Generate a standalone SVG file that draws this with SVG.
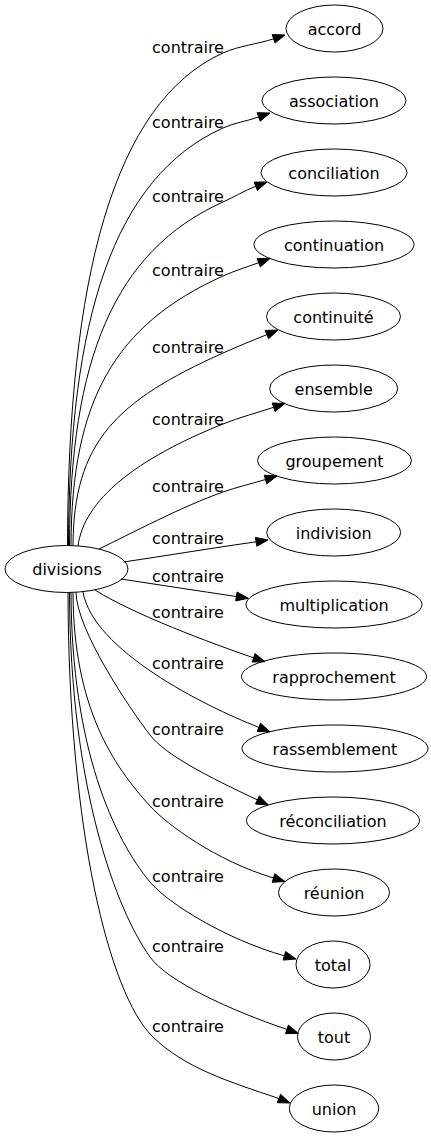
<svg xmlns="http://www.w3.org/2000/svg" width="431" height="1139" viewBox="0 0 431 1139">
<style>
text{font-family:"DejaVu Sans","Liberation Sans",sans-serif;font-size:16px;fill:#000;text-anchor:middle}
.node ellipse{fill:none;stroke:#000;stroke-width:1}
.edge path{fill:none;stroke:#000;stroke-width:1}
.edge polygon{fill:#000;stroke:#000;stroke-width:1}
</style>
<rect width="431" height="1139" fill="#fff"/>
<g id="edges">
<g class="edge" id="e1"><path d="M67.5,545.5 C68,280 113,102.5 223,53 C239.9,45.4 256.7,44.4 273.6,38.8"/><polygon points="275,43.1 285,35 272.2,34.5"/><text x="188" y="53">contraire</text></g>
<g class="edge" id="e2"><path d="M68.5,545.5 C69,320 113,177.5 223,128 C234.9,122.6 246.8,121.2 258.7,117"/><polygon points="260.2,121.2 270,113 257.2,112.7"/><text x="188" y="128">contraire</text></g>
<g class="edge" id="e3"><path d="M69.5,545.6 C70,360 114,251 223,202 C233.9,197.1 244.9,190.4 255.8,186.3"/><polygon points="257.4,190.5 267,182 254.2,182.1"/><text x="188" y="202">contraire</text></g>
<g class="edge" id="e4"><path d="M71,545.6 C71.5,400 115,324.6 223,276 C234.9,270.6 246.8,267.1 258.7,262.7"/><polygon points="260.3,266.9 270,258.5 257.1,258.5"/><text x="188" y="276">contraire</text></g>
<g class="edge" id="e5"><path d="M73,545.7 C73.5,441.6 116.5,400.9 223,353 C237.6,346.4 252.3,340.6 266.9,334.6"/><polygon points="268.6,338.8 278,330 265.2,330.4"/><text x="188" y="353">contraire</text></g>
<g class="edge" id="e6"><path d="M78,546 C84,500 136,458.8 223,424 C239.9,417.2 256.7,412.9 273.6,407.3"/><polygon points="275,411.6 285,403.5 272.2,403"/><text x="188" y="425">contraire</text></g>
<g class="edge" id="e7"><path d="M99,549 C130,534 183,506 223,492 C237.2,487 251.3,483.8 265.5,479.5"/><polygon points="266.8,483.8 277,476 264.2,475.2"/><text x="188" y="492">contraire</text></g>
<g class="edge" id="e8"><path d="M123.5,562 C168,555.5 212,548 256.1,541.8"/><polygon points="256.8,546.3 268,540 255.4,537.4"/><text x="188" y="544">contraire</text></g>
<g class="edge" id="e9"><path d="M121,579 C160,585 198,590.8 236.4,596.5"/><polygon points="235.7,600.9 248.3,598.3 237.1,592"/><text x="188" y="582">contraire</text></g>
<g class="edge" id="e10"><path d="M95,590 C133,614 211,643.3 253.6,657.8"/><polygon points="252.2,662.1 265,661.7 255.1,653.5"/><text x="188" y="618">contraire</text></g>
<g class="edge" id="e11"><path d="M83,592 C93,650 202.9,705.5 258.8,727.3"/><polygon points="257.2,731.5 270,731.7 260.4,723.1"/><text x="188" y="669">contraire</text></g>
<g class="edge" id="e12"><path d="M76,592.2 C76.5,630 129.9,708.8 150,735 C165.2,754.8 207.6,776.5 257.4,799.9"/><polygon points="255.5,804 268.3,805 259.3,795.8"/><text x="188" y="735">contraire</text></g>
<g class="edge" id="e13"><path d="M73,592.4 C73.5,707.7 113.2,765.5 150,806 C166.8,824.5 216,860.8 273.5,878"/><polygon points="272.2,882.3 285,881.5 274.8,873.7"/><text x="188" y="807">contraire</text></g>
<g class="edge" id="e14"><path d="M71,592.3 C71.5,748.7 114.2,839 150,882 C167.9,903.5 226.6,939.6 284.4,955.8"/><polygon points="283.2,960.1 296,959 285.6,951.5"/><text x="188" y="882">contraire</text></g>
<g class="edge" id="e15"><path d="M69.5,592.4 C70,789.3 116.8,910.4 150,957 C167.4,981.4 230.1,1010.1 286.9,1029.4"/><polygon points="285.5,1033.7 298.3,1033.3 288.4,1025.1"/><text x="188" y="952">contraire</text></g>
<g class="edge" id="e16"><path d="M68,592.5 C68.5,832 109.6,993.6 152,1036 C184,1068 230,1082 278.9,1098.5"/><polygon points="277.2,1102.7 290,1103 280.6,1094.3"/><text x="188" y="1032">contraire</text></g>
</g>
<g class="node" id="divisions"><ellipse cx="66.5" cy="569" rx="61.5" ry="23.5"/><text x="67" y="575">divisions</text></g>
<g class="node" id="accord"><ellipse cx="334.5" cy="28.5" rx="48.5" ry="23.5"/><text x="334.5" y="34.5">accord</text></g>
<g class="node" id="association"><ellipse cx="334" cy="100.5" rx="72" ry="23.5"/><text x="334" y="106.5">association</text></g>
<g class="node" id="conciliation"><ellipse cx="334" cy="172.5" rx="73" ry="23.5"/><text x="334" y="178.5">conciliation</text></g>
<g class="node" id="continuation"><ellipse cx="334" cy="244.5" rx="80" ry="23.5"/><text x="334" y="250.5">continuation</text></g>
<g class="node" id="continuite"><ellipse cx="333.5" cy="316.5" rx="67" ry="23.5"/><text x="333.5" y="322.5">continuité</text></g>
<g class="node" id="ensemble"><ellipse cx="333.7" cy="388.5" rx="64" ry="23.5"/><text x="333.7" y="394.5">ensemble</text></g>
<g class="node" id="groupement"><ellipse cx="334.5" cy="460.5" rx="77" ry="23.5"/><text x="334.5" y="466.5">groupement</text></g>
<g class="node" id="indivision"><ellipse cx="333.7" cy="532.5" rx="67" ry="23.5"/><text x="333.7" y="538.5">indivision</text></g>
<g class="node" id="multiplication"><ellipse cx="334" cy="604.5" rx="88" ry="23.5"/><text x="334" y="610.5">multiplication</text></g>
<g class="node" id="rapprochement"><ellipse cx="334" cy="676.5" rx="92.5" ry="23.5"/><text x="334" y="682.5">rapprochement</text></g>
<g class="node" id="rassemblement"><ellipse cx="335" cy="748.5" rx="93" ry="23.5"/><text x="335" y="754.5">rassemblement</text></g>
<g class="node" id="reconciliation"><ellipse cx="333" cy="820.5" rx="86.5" ry="23.5"/><text x="333" y="826.5">réconciliation</text></g>
<g class="node" id="reunion"><ellipse cx="334" cy="892.5" rx="55.5" ry="23.5"/><text x="334" y="898.5">réunion</text></g>
<g class="node" id="total"><ellipse cx="333" cy="964.5" rx="37" ry="23.5"/><text x="333" y="970.5">total</text></g>
<g class="node" id="tout"><ellipse cx="334" cy="1036.5" rx="36.5" ry="23.5"/><text x="334" y="1042.5">tout</text></g>
<g class="node" id="union"><ellipse cx="334" cy="1108.5" rx="44.7" ry="23.5"/><text x="334" y="1114.5">union</text></g>
</svg>
